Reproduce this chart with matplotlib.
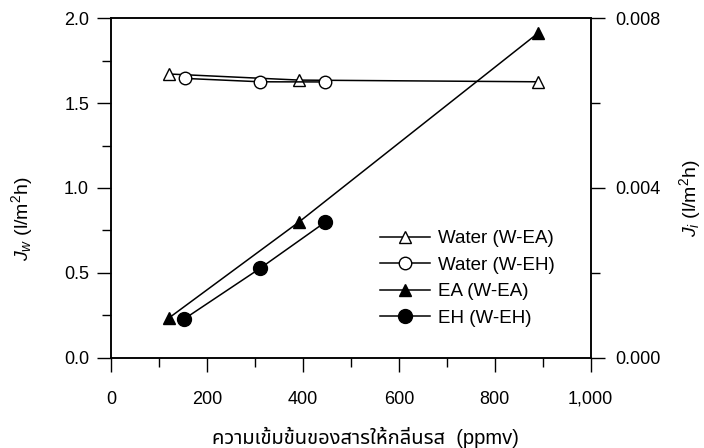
import numpy as np
import matplotlib
matplotlib.use("Agg")
import matplotlib.pyplot as plt
from matplotlib.ticker import MultipleLocator, FuncFormatter

plt.rcParams['font.family'] = ['Liberation Sans', 'Noto Sans Thai', 'Noto Sans Thai Looped', 'Loma',
                               'Garuda', 'Tlwg Typo', 'Norasi', 'Sarabun', 'DejaVu Sans']
plt.rcParams['mathtext.fontset'] = 'custom'
plt.rcParams['mathtext.rm'] = 'Liberation Sans'
plt.rcParams['mathtext.it'] = 'Liberation Sans:italic'

# water flux (left axis, l/m2h)
water_ea_x = [120, 392, 890]
water_ea_y = [1.672, 1.636, 1.626]
water_eh_x = [153, 311, 446]
water_eh_y = [1.646, 1.626, 1.625]

# aroma flux (right axis, l/m2h)
ea_x = [120, 392, 890]
ea_y = [0.00093, 0.0032, 0.00765]
eh_x = [151, 310, 446]
eh_y = [0.0009, 0.0021, 0.00319]

xticks = [0, 200, 400, 600, 800, 1000]

fig = plt.figure(figsize=(7.04, 4.48), dpi=100)
ax = fig.add_axes([0.158, 0.202, 0.681, 0.757])
ax2 = ax.twinx()

l1, = ax.plot(water_ea_x, water_ea_y, color='black', lw=1.1, marker='^', ms=8.5,
              mfc='white', mec='black', mew=1.0, label='Water (W-EA)')
l2, = ax.plot(water_eh_x, water_eh_y, color='black', lw=1.1, marker='o', ms=9,
              mfc='white', mec='black', mew=1.0, label='Water (W-EH)')
l3, = ax2.plot(ea_x, ea_y, color='black', lw=1.1, marker='^', ms=8.5,
               mfc='black', mec='black', label='EA (W-EA)')
l4, = ax2.plot(eh_x, eh_y, color='black', lw=1.1, marker='o', ms=10,
               mfc='black', mec='black', label='EH (W-EH)')

ax.set_xlim(0, 1000)
ax.set_ylim(0, 2.0)
ax2.set_ylim(0, 0.008)

ax.set_xticks(xticks)
ax.xaxis.set_major_formatter(FuncFormatter(lambda v, p: '{:,.0f}'.format(v)))
ax.xaxis.set_minor_locator(MultipleLocator(100))
ax.yaxis.set_major_locator(MultipleLocator(0.5))
ax.yaxis.set_minor_locator(MultipleLocator(0.25))
ax.yaxis.set_major_formatter(FuncFormatter(lambda v, p: '%.1f' % v))
ax2.yaxis.set_major_locator(MultipleLocator(0.004))
ax2.yaxis.set_minor_locator(MultipleLocator(0.002))
ax2.yaxis.set_major_formatter(FuncFormatter(lambda v, p: '%.3f' % v))

ax.tick_params(axis='both', which='major', direction='out', length=10, width=1, labelsize=13, pad=6)
ax.tick_params(axis='both', which='minor', direction='out', length=6.5, width=1)
ax.tick_params(axis='x', which='major', pad=14)
ax2.tick_params(axis='y', which='major', direction='out', length=10, width=1, labelsize=13, pad=8)
ax2.tick_params(axis='y', which='minor', direction='out', length=6.5, width=1)
for a in (ax, ax2):
    for s in a.spines.values():
        s.set_linewidth(1.1)

ax.set_xlabel('ความเข้มข้นของสารให้กลิ่นรส  (ppmv)', fontsize=14.5)
ax.set_ylabel(r'$J_w$ (l/m$^2$h)', fontsize=14)
ax2.set_ylabel(r'$J_i$ (l/m$^2$h)', fontsize=14, rotation=90)
# label spots
ax.xaxis.set_label_coords(0.531, -0.205)
ax.yaxis.set_label_coords(-0.16, 0.41)
ax2.yaxis.set_label_coords(1.181, 0.47)

ax2.legend(handles=[l1, l2, l3, l4], loc='upper left', bbox_to_anchor=(0.56, 0.375),
           frameon=False, fontsize=13.5, handlelength=2.7, handletextpad=0.4,
           labelspacing=0.5, borderpad=0, borderaxespad=0)

fig.savefig('out.png', dpi=100)
